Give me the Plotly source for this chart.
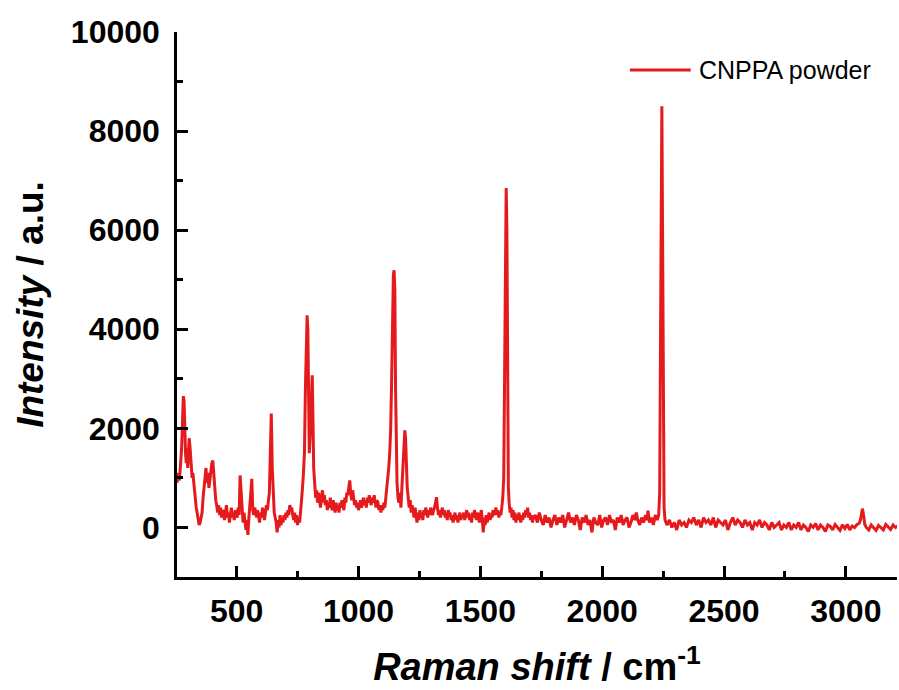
import plotly.graph_objects as go

# ---- Raman spectrum ----
shift_a = [255,260,265,270,274,278,281,284,287,290,
           293,296,299,302,305,308,311,314,317,320,
           323,326,330,334,338,342,346,350,354,358,
           362,366,370,374,378,382,386,390,394,398,
           402,406,410,414,418,422,426,430,434,438,
           442,446,450,454,458,462,466,470,474,478,
           482,486,490,494,498,502,506,510,514,518,
           522,526,530,534,538,542,546,550,554,558,
           562,566,570,574,578,582,586,590,594,598,
           602,606,610,614,618,622,626,630,634,638,
           642,646,650,654,658,662,666,670,674,678,
           682,686,690,694,698,702,706,710,714,718,
           722,726,730,734,738,742,746,750,754,758]
intensity_a = [900,1100,950,1300,1600,2200,2650,2550,1900,1500,
               1300,1600,1200,1500,1800,1650,1350,1200,1000,1100,
               900,800,600,400,250,150,50,100,180,300,
               600,850,1000,1200,900,1100,800,1000,1150,1300,
               1350,1100,750,550,450,300,450,250,400,200,
               350,300,150,350,450,200,300,100,250,400,
               200,300,150,350,250,200,400,250,1050,700,
               250,100,300,50,-50,150,-150,200,400,700,
               980,350,250,400,300,200,350,250,100,300,
               200,400,250,150,300,450,350,500,700,1500,
               2300,1200,500,300,200,100,-100,150,0,250,
               50,200,100,250,150,300,200,350,250,450,
               350,400,250,150,300,100,250,50,200,100]

shift_b = [762,766,770,774,778,782,786,789,792,795,
           798,801,804,807,810,813,816,820,824,828,
           832,836,840,844,848,852,856,860,864,868,
           872,876,880,884,888,892,896,900,904,908,
           912,916,920,924,928,932,936,940,944,948,
           952,956,960,964,968,972,976,980,984,988,
           992,996,1000,1004,1008,1012,1016,1020,1024,1028,
           1032,1036,1040,1044,1048,1052,1056,1060,1064,1068,
           1072,1076,1080,1084,1088,1092,1096,1100,1104,1108,
           1112,1116,1120,1124,1128,1132,1136,1140,1143,1146,
           1149,1152,1155,1158,1162,1166,1170,1174,1178,1182,
           1186,1190,1193,1196,1200,1204,1208,1212,1216,1220,
           1224,1228,1232,1236,1240,1244,1248,1252,1256,1260,
           1264,1268,1272,1276,1280,1284,1288,1292,1296,1300,
           1304,1308,1312,1316,1320,1324,1328]
intensity_b = [300,500,800,1100,1500,2800,4100,4280,4000,2500,
               1500,1800,2200,3000,3070,2200,1200,900,600,750,
               500,700,550,400,600,750,500,650,450,550,
               350,500,400,600,450,350,550,400,300,500,
               350,450,300,500,400,550,450,350,600,500,
               700,650,800,950,700,550,750,600,450,550,
               400,500,350,450,550,400,500,600,450,550,
               400,600,500,650,550,450,600,500,650,550,
               400,550,500,350,450,300,450,350,500,400,
               600,700,900,1200,1500,2000,3000,4300,5100,5190,
               4800,2800,1400,900,600,500,700,400,800,1300,
               1700,1960,1800,1200,800,600,400,550,300,450,
               350,200,400,250,100,300,150,350,200,300,
               150,350,250,400,300,200,350,250,400,300,
               250,350,400,500,610,400,250]

shift_c = [1332,1336,1340,1344,1348,1352,1356,1360,1364,1368,
           1372,1376,1380,1384,1388,1392,1396,1400,1404,1408,
           1412,1416,1420,1424,1428,1432,1436,1440,1444,1448,
           1452,1456,1460,1464,1468,1472,1476,1480,1484,1488,
           1492,1496,1500,1504,1508,1512,1516,1520,1524,1528,
           1532,1536,1540,1544,1548,1552,1556,1560,1564,1568,
           1572,1576,1580,1584,1588,1592,1596,1600,1603,1606,
           1609,1612,1615,1618,1622,1626,1630,1634,1638,1642,
           1646,1650,1654,1658,1662,1666,1670,1674,1678,1682,
           1686,1690,1694,1698,1702,1706,1710,1714,1718]
intensity_c = [350,200,300,400,250,350,200,300,150,350,
               250,300,150,250,100,200,300,150,250,100,
               200,300,150,250,200,300,150,250,350,200,
               300,150,250,100,300,200,350,250,150,300,
               200,100,250,350,150,-100,200,50,250,100,
               200,300,150,250,200,350,250,300,400,250,
               350,200,300,250,400,600,1000,2800,5500,6850,
               6000,2700,800,500,300,400,200,350,150,300,
               100,250,150,300,200,100,250,150,300,200,
               350,250,400,200,300,150,250,100,200]

shift_d = [1726,1734,1742,1750,1758,1766,1774,1782,1790,1798,
           1806,1814,1822,1830,1838,1846,1854,1862,1870,1878,
           1886,1894,1902,1910,1918,1926,1934,1942,1950,1958,
           1966,1974,1982,1990,1998,2006,2014,2022,2030,2038,
           2046,2054,2062,2070,2078,2086,2094,2102,2110,2118,
           2126,2134,2140,2146,2154,2162,2170,2178,2184,2188,
           2194,2202,2210,2218,2226,2232,2236,2239,2242,2245,
           2248,2251,2254,2258]
intensity_d = [250,100,300,150,50,250,100,200,0,150,
               250,50,200,100,250,0,150,300,100,200,
               50,250,150,-50,200,100,250,50,150,-100,
               200,100,50,250,0,150,200,50,250,100,
               150,-50,200,100,250,50,150,200,0,100,
               250,150,300,150,50,200,100,250,150,340,
               100,200,50,250,150,250,700,2500,6000,8500,
               5000,1400,400,150]

shift_e = [2266,2276,2286,2296,2306,2316,2326,2336,2346,2356,
           2366,2376,2386,2396,2406,2416,2426,2436,2446,2456,
           2466,2476,2486,2496,2506,2516,2526,2536,2546,2556,
           2566,2576,2586,2596,2606,2616,2626,2636,2646,2656,
           2666,2676,2686,2696,2706,2716,2726,2736,2746,2756,
           2766,2776,2786,2796,2806,2816,2826,2836,2846,2856,
           2866,2876,2886,2896,2906,2916,2926,2936,2946,2956,
           2966,2976,2986,2996,3006,3016,3026,3036,3046,3054,
           3060,3064,3068,3071,3074,3078,3084,3094,3104,3114,
           3124,3134,3144,3154,3164,3174,3184,3194,3204,3212]
intensity_e = [50,150,0,100,-50,150,50,100,0,150,
               100,200,50,150,0,200,100,150,50,200,
               0,150,100,50,150,-50,100,200,50,150,
               100,0,150,50,100,-50,100,50,150,0,
               100,50,-50,100,0,50,100,-50,50,0,
               100,-50,50,0,100,-50,50,0,-80,50,
               0,80,-50,50,0,-80,50,20,-50,60,
               0,-60,50,-20,60,-50,30,0,60,80,
               150,250,380,300,150,60,0,-50,50,0,
               -60,40,0,-50,60,0,-40,50,0,30]

raman_shift = shift_a + shift_b + shift_c + shift_d + shift_e
intensity = intensity_a + intensity_b + intensity_c + intensity_d + intensity_e
assert len(raman_shift) == len(intensity)

series_name = "CNPPA powder"
x_ticks = [500, 1000, 1500, 2000, 2500, 3000]
y_ticks = [0, 2000, 4000, 6000, 8000, 10000]

FONT = "Liberation Sans, Arial, sans-serif"
RED = "rgb(228,26,28)"

fig = go.Figure()
fig.add_trace(go.Scatter(
    x=raman_shift, y=intensity, mode="lines", name=series_name,
    line=dict(color=RED, width=3), showlegend=False,
))

# legend drawn as a sample line + label (longer sample line than plotly's)
fig.add_shape(type="line", xref="paper", yref="paper",
              x0=0.629, x1=0.7135, y0=0.9303, y1=0.9303,
              line=dict(color=RED, width=3))
fig.add_annotation(xref="paper", yref="paper", x=0.7222, y=0.9303,
                   xanchor="left", yanchor="middle", showarrow=False,
                   text=series_name,
                   font=dict(family=FONT, size=25, color="black"))

axis_common = dict(
    showline=True, linecolor="black", linewidth=2.5,
    ticks="inside", ticklen=11, tickwidth=2.5, tickcolor="black",
    showgrid=False, zeroline=False, mirror=False,
    tickfont=dict(family=FONT, size=32, color="black", weight="bold"),
)

fig.update_layout(
    width=899, height=690,
    margin=dict(l=177, r=2, t=32, b=113),
    paper_bgcolor="white", plot_bgcolor="white",
    showlegend=False,
    xaxis=dict(
        range=[255, 3210], tickvals=x_ticks,
        ticktext=[str(v) for v in x_ticks],
        minor=dict(ticks="inside", ticklen=6, tickwidth=2.5, dtick=250,
                   tick0=0, tickcolor="black"),
        title=dict(text="<i>Raman shift</i> / cm<sup>-1</sup>", standoff=26,
                   font=dict(family=FONT, size=38, color="black", weight="bold")),
        ticklabelstandoff=4,
        **axis_common,
    ),
    yaxis=dict(
        range=[-1000, 10000], tickvals=y_ticks,
        ticktext=[str(v) for v in y_ticks],
        minor=dict(ticks="inside", ticklen=6, tickwidth=2.5, dtick=1000,
                   tick0=0, tickcolor="black"),
        title=dict(text="<i>Intensity</i> / a.u.", standoff=16,
                   font=dict(family=FONT, size=37, color="black", weight="bold")),
        ticklabelstandoff=8,
        **axis_common,
    ),
)

fig.write_html("out.html")
